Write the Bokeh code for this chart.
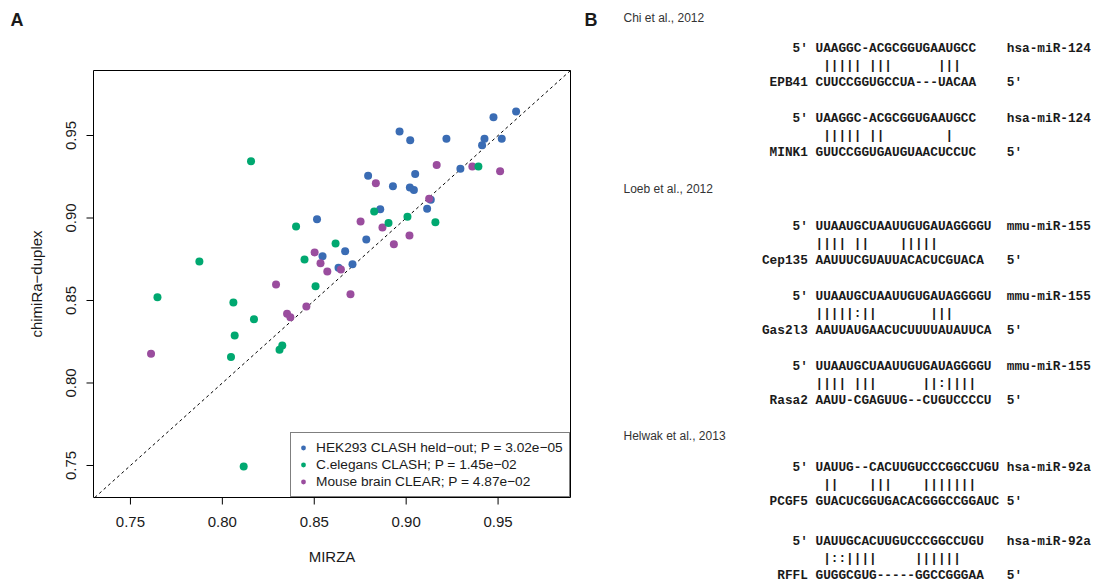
import math
from bokeh.plotting import figure
from bokeh.layouts import row
from bokeh.models import Range1d, Legend, LegendItem
from bokeh.core.properties import value
from bokeh.embed import file_html
from bokeh.resources import INLINE

# ---------------- data: panel A ----------------
hek_x = [0.9598, 0.9475, 0.8964, 0.9022, 0.9219, 0.9426, 0.9520, 0.9413, 0.9295, 0.8793,
         0.9049, 0.8928, 0.9020, 0.9042, 0.9134, 0.9114, 0.8859, 0.8783, 0.8668, 0.8545,
         0.8515, 0.8632, 0.8708]
hek_y = [0.9645, 0.9611, 0.9524, 0.9472, 0.9480, 0.9480, 0.9480, 0.9441, 0.9298, 0.9256,
         0.9266, 0.9193, 0.9185, 0.9169, 0.9111, 0.9056, 0.9053, 0.8870, 0.8799, 0.8768,
         0.8993, 0.8698, 0.8720]
cel_x = [0.8156, 0.8401, 0.8616, 0.7875, 0.9393, 0.8826, 0.9007, 0.8904, 0.9159, 0.8447,
         0.8507, 0.7647, 0.8060, 0.8172, 0.8067, 0.8326, 0.8311, 0.8047, 0.8116]
cel_y = [0.9344, 0.8948, 0.8845, 0.8736, 0.9312, 0.9040, 0.9007, 0.8969, 0.8975, 0.8748,
         0.8587, 0.8520, 0.8488, 0.8387, 0.8288, 0.8227, 0.8201, 0.8157, 0.7494]
mus_x = [0.9166, 0.9360, 0.9511, 0.8835, 0.9125, 0.8752, 0.8871, 0.9018, 0.8933, 0.8502,
         0.8534, 0.8571, 0.8645, 0.8697, 0.8292, 0.8457, 0.8352, 0.8370, 0.7612]
mus_y = [0.9322, 0.9312, 0.9284, 0.9211, 0.9116, 0.8979, 0.8942, 0.8894, 0.8841, 0.8791,
         0.8726, 0.8676, 0.8688, 0.8538, 0.8597, 0.8464, 0.8419, 0.8399, 0.8177]
legend_labels = ["HEK293 CLASH held\u2212out; P = 3.02e\u221205",
                 "C.elegans CLASH; P = 1.45e\u221202",
                 "Mouse brain CLEAR; P = 4.87e\u221202"]
tick_values = [0.75, 0.80, 0.85, 0.90, 0.95]
tick_labels = ["0.75", "0.80", "0.85", "0.90", "0.95"]
x_title = "MIRZA"
y_title = "chimiRa\u2212duplex"
panel_letters = ["A", "B"]

# ---------------- data: panel B ----------------
headings = ["Chi et al., 2012", "Loeb et al., 2012", "Helwak et al., 2013"]
mirna_names = ["hsa-miR-124", "hsa-miR-124", "mmu-miR-155", "mmu-miR-155",
               "mmu-miR-155", "hsa-miR-92a", "hsa-miR-92a"]
mirna_seqs = ["UAAGGC-ACGCGGUGAAUGCC", "UAAGGC-ACGCGGUGAAUGCC",
              "UUAAUGCUAAUUGUGAUAGGGGU", "UUAAUGCUAAUUGUGAUAGGGGU",
              "UUAAUGCUAAUUGUGAUAGGGGU", "UAUUG--CACUUGUCCCGGCCUGU",
              "UAUUGCACUUGUCCCGGCCUGU"]
match_strs = [" ||||| |||      |||", " ||||| ||        |",
              "|||| ||    |||||", "|||||:||       |||",
              "|||| |||      ||:||||", " ||    |||    |||||||",
              " |::||||     ||||||"]
target_names = ["EPB41", "MINK1", "Cep135", "Gas2l3", "Rasa2", "PCGF5", "RFFL"]
target_seqs = ["CUUCCGGUGCCUA---UACAA", "GUUCCGGUGAUGUAACUCCUC",
               "AAUUUCGUAUUACACUCGUACA", "AAUUAUGAACUCUUUUAUAUUCA",
               "AAUU-CGAGUUG--CUGUCCCCU", "GUACUCGGUGACACGGGCCGGAUC",
               "GUGGCGUG-----GGCCGGGAA"]

# ---------------- styles / layout ----------------
C_BLUE, C_GREEN, C_PURPLE = "#3a6cb4", "#00a870", "#9a4d9e"
SANS = "Liberation Sans"
MONO = "Liberation Mono"
TXT = "#1a1a1a"
PAGE_W, PAGE_H = 1094, 586
LW = 608                                   # width of panel A canvas
FL, FR, FT, FB = 93, 570, 70, 497          # plot box in pixels
XR = (0.7299, 0.9894)                      # data limits of the box
YR = (0.7306, 0.9894)
sx = (XR[1] - XR[0]) / (FR - FL)           # data units per pixel
sy = (YR[1] - YR[0]) / (FB - FT)


def dx(px):
    return XR[0] + (px - FL) * sx


def dy(py):
    return YR[1] + (FT - py) * sy


# ---------------- panel A ----------------
p = figure(width=LW, height=PAGE_H, x_range=Range1d(dx(0), dx(LW)),
           y_range=Range1d(dy(PAGE_H), dy(0)), x_axis_type=None, y_axis_type=None,
           toolbar_location=None, output_backend="svg", min_border=0,
           outline_line_color=None)
p.grid.visible = False

# plot box
p.quad(left=[XR[0]], right=[XR[1]], bottom=[YR[0]], top=[YR[1]], fill_color=None,
       line_color="black", line_width=1)
# identity line y = x inside the box
lo, hi = max(XR[0], YR[0]), min(XR[1], YR[1])
p.segment(x0=[lo], y0=[lo], x1=[hi], y1=[hi], line_color="black", line_width=1,
          line_dash="3 3")

# x axis
nt = len(tick_values)
p.segment(x0=tick_values, y0=[YR[0]] * nt, x1=tick_values, y1=[YR[0] - 7 * sy] * nt,
          line_color="black", line_width=1)
p.text(x=tick_values, y=[YR[0] - 24 * sy] * nt, text=tick_labels, text_font=value(SANS),
       text_font_size="15px", text_color=TXT, text_align="center", text_baseline="middle")
p.text(x=[(XR[0] + XR[1]) / 2], y=[dy(556)], text=[x_title], text_font=value(SANS),
       text_font_size="15px", text_color=TXT, text_align="center", text_baseline="middle")
# y axis
p.segment(x0=[XR[0]] * nt, y0=tick_values, x1=[XR[0] - 7 * sx] * nt, y1=tick_values,
          line_color="black", line_width=1)
p.text(x=[XR[0] - 23 * sx] * nt, y=tick_values, text=tick_labels, angle=math.pi / 2,
       text_font=value(SANS), text_font_size="15px", text_color=TXT,
       text_align="center", text_baseline="middle")
p.text(x=[dx(36)], y=[(YR[0] + YR[1]) / 2], text=[y_title], angle=math.pi / 2,
       text_font=value(SANS), text_font_size="15px", text_color=TXT,
       text_align="center", text_baseline="middle")

# panel letters
p.text(x=[dx(10), dx(584)], y=[dy(19), dy(19)], text=panel_letters, text_font=value(SANS),
       text_font_style="bold", text_font_size="18px", text_color=TXT,
       text_align="left", text_baseline="middle")

# points
r_hek = p.scatter(hek_x, hek_y, size=8, color=C_BLUE, line_color=None)
r_mus = p.scatter(mus_x, mus_y, size=8, color=C_PURPLE, line_color=None)
r_cel = p.scatter(cel_x, cel_y, size=8, color=C_GREEN, line_color=None)

leg = Legend(items=[LegendItem(label=legend_labels[0], renderers=[r_hek]),
                    LegendItem(label=legend_labels[1], renderers=[r_cel]),
                    LegendItem(label=legend_labels[2], renderers=[r_mus])],
             location=(290, PAGE_H - FB), margin=0, padding=6, spacing=0,
             label_height=17, glyph_height=17, glyph_width=12, label_standoff=7,
             border_line_color="black", border_line_width=1,
             background_fill_color="white", background_fill_alpha=1,
             label_text_font=SANS, label_text_font_size="13.7px",
             label_text_color=TXT)
p.add_layout(leg)

# ---------------- panel B ----------------
FS = 12.75          # px, monospace font size
W = FS * 0.6        # px per character
XS = 815            # x of first sequence column (px)
LINE = 17           # line spacing inside a block
heading_x = 623
heading_y = [17, 188, 435]
block_y = [48, 118, 226, 296, 366, 467, 541]

q = figure(width=PAGE_W - LW, height=PAGE_H, x_range=Range1d(LW, PAGE_W),
           y_range=Range1d(PAGE_H, 0), x_axis_type=None, y_axis_type=None,
           toolbar_location=None, output_backend="svg", min_border=0,
           outline_line_color=None)

q.text(x=[heading_x] * len(headings), y=heading_y, text=headings, text_font=value(SANS),
       text_font_size="12px", text_color="#333333", text_baseline="middle",
       text_align="left")

mono = dict(text_font=value(MONO), text_font_style="bold",
            text_font_size=f"{FS}px", text_color=TXT, text_baseline="middle")
n = len(mirna_seqs)
y1 = block_y
y2 = [y + LINE for y in block_y]
y3 = [y + 2 * LINE for y in block_y]
q.text(x=[XS - 3 * W] * n, y=y1, text=["5'"] * n, text_align="left", **mono)
q.text(x=[XS] * n, y=y1, text=mirna_seqs, text_align="left", **mono)
q.text(x=[XS + 25 * W] * n, y=y1, text=mirna_names, text_align="left", **mono)
q.text(x=[XS - W] * n, y=y3, text=target_names, text_align="right", **mono)
q.text(x=[XS] * n, y=y3, text=target_seqs, text_align="left", **mono)
q.text(x=[XS + 25 * W] * n, y=y3, text=["5'"] * n, text_align="left", **mono)
mx, my, mt = [], [], []
for b, s in enumerate(match_strs):
    for i, ch in enumerate(s):
        if ch != " ":
            mx.append(XS + (i + 0.5) * W)
            my.append(y2[b])
            mt.append(ch)
q.text(x=mx, y=my, text=mt, text_align="center", **mono)

layout = row(p, q)
open("out.html", "w").write(file_html(layout, INLINE))
